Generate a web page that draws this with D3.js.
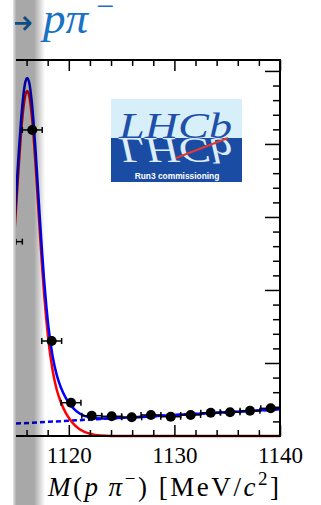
<!DOCTYPE html>
<html>
<head>
<meta charset="utf-8">
<script src="https://cdn.jsdelivr.net/npm/d3@7"></script>
<style>
  html, body { margin: 0; padding: 0; background: #fff; }
  svg { display: block; font-family: "Liberation Serif", "Times New Roman", serif; }
</style>
</head>
<body>
<svg id="chart" width="321" height="505"></svg>
<script>
// histogram bins
const binMass = [1114.66, 1116.54, 1118.38, 1120.21, 1122.17, 1124.06, 1125.96, 1127.78, 1129.65, 1131.54, 1133.44, 1135.27, 1137.16, 1139.12];
const binCounts = [2662, 4192, 1301, 456, 278, 270, 256, 288, 264, 288, 319, 325, 347, 379];
const countErr = [52, 65, 36, 21, 17, 16, 16, 17, 16, 17, 18, 18, 19, 19];
const binHalfWidth = 0.94;

// fit curves, sampled off the plot
const fitMass = [1114.86, 1115.06, 1115.26, 1115.46, 1115.66, 1115.86, 1116.06, 1116.26, 1116.46, 1116.66, 1116.86, 1117.06, 1117.26, 1117.46, 1117.66, 1117.86, 1118.06, 1118.46, 1118.86, 1119.26, 1119.66, 1120.06, 1120.56, 1121.06, 1122.06, 1123.06, 1125.06, 1130, 1135, 1140];
const signalCurve = [2788, 3251, 3705, 4116, 4442, 4655, 4726, 4655, 4442, 4116, 3705, 3251, 2788, 2349, 1949, 1607, 1319, 903, 633, 458, 331, 236, 148, 88, 27, 7, 0, 0, 0, 0];
const totalCurve = [2957, 3421, 3877, 4290, 4617, 4832, 4904, 4835, 4623, 4299, 3890, 3437, 2976, 2538, 2140, 1799, 1513, 1100, 833, 661, 537, 446, 361, 305, 252, 240, 249, 287, 326, 365];
const bgMass = [1115, 1140];
const bgCurve = [170, 365];

// ticks
const xMajor = [1120, 1130, 1140];
const xMinor = [1116, 1118, 1122, 1124, 1126, 1128, 1132, 1134, 1136, 1138];
const yMajor = [1000, 2000, 3000, 4000, 5000];
const yMinor = d3.range(200, 5150, 200).filter(v => v % 1000 !== 0);

const svg = d3.select('#chart');

const x = d3.scaleLinear().domain([1115, 1140]).range([16, 280]);
const y = d3.scaleLinear().domain([0, 5150]).range([436, 60]);

const defs = svg.append('defs');
defs.append('clipPath').attr('id', 'plotClip')
  .append('rect').attr('x', 16).attr('y', 60).attr('width', 264).attr('height', 378);
defs.append('clipPath').attr('id', 'leftClip')
  .append('rect').attr('x', 15).attr('y', 0).attr('width', 306).attr('height', 505);

// gray band on the left
const grad = defs.append('linearGradient').attr('id', 'band')
  .attr('gradientUnits', 'userSpaceOnUse')
  .attr('x1', 13).attr('x2', 45).attr('y1', 0).attr('y2', 0);
[[0, 0.1], [0.1, 0.34], [0.66, 0.34], [1, 0]].forEach(s => {
  grad.append('stop').attr('offset', s[0]).attr('stop-color', '#000').attr('stop-opacity', s[1]);
});

// title
const title = svg.append('g').attr('clip-path', 'url(#leftClip)').attr('fill', '#1873c4');
title.append('text').attr('x', 33).attr('y', 34).attr('text-anchor', 'end')
  .attr('font-family', '"DejaVu Sans", sans-serif')
  .attr('font-size', 34).text('\u2192');
title.append('text').attr('x', 43).attr('y', 33).attr('font-size', 45)
  .attr('font-style', 'italic').text('p\u03c0');
title.append('text').attr('x', 96).attr('y', 17).attr('font-size', 32).text('\u2212');

// LHCb logo
const logo = svg.append('g');
defs.append('clipPath').attr('id', 'logoClip')
  .append('rect').attr('x', 111).attr('y', 99).attr('width', 131).attr('height', 83);
logo.append('rect').attr('x', 111).attr('y', 99).attr('width', 131).attr('height', 39).attr('fill', '#d6eff9');
logo.append('rect').attr('x', 111).attr('y', 138).attr('width', 131).attr('height', 44).attr('fill', '#1b4ca3');
const lg = logo.append('g').attr('clip-path', 'url(#logoClip)');
lg.append('text').attr('x', 119).attr('y', 137.5).attr('font-size', 35).attr('font-style', 'italic')
  .attr('textLength', 113).attr('lengthAdjust', 'spacingAndGlyphs')
  .attr('fill', '#1f4fa8').text('LHCb');
lg.append('text').attr('x', 119).attr('y', 137.5).attr('font-size', 35).attr('font-style', 'italic')
  .attr('textLength', 113).attr('lengthAdjust', 'spacingAndGlyphs')
  .attr('transform', 'translate(0,275) scale(1,-1)')
  .attr('fill', '#dcedf8').text('LHCb');
lg.append('line').attr('x1', 176).attr('y1', 158).attr('x2', 228).attr('y2', 138)
  .attr('stroke', '#e23a2e').attr('stroke-width', 2);
logo.append('text').attr('x', 177).attr('y', 179).attr('text-anchor', 'middle')
  .attr('font-family', '"Liberation Sans", Arial, sans-serif').attr('font-weight', 'bold')
  .attr('font-size', 8.4).attr('fill', '#fff').text('Run3 commissioning');

// curves
const plot = svg.append('g').attr('clip-path', 'url(#plotClip)');
const line = d3.line().x(d => x(d[0])).y(d => y(d[1])).curve(d3.curveMonotoneX);

plot.append('path')
  .datum(d3.zip(bgMass, bgCurve))
  .attr('d', line).attr('fill', 'none')
  .attr('stroke', '#0000ff').attr('stroke-width', 2.5).attr('stroke-dasharray', '5,3');

plot.append('path')
  .datum(d3.zip(fitMass, signalCurve))
  .attr('d', line).attr('fill', 'none')
  .attr('stroke', '#ff0000').attr('stroke-width', 2.5);

plot.append('path')
  .datum(d3.zip(fitMass, totalCurve))
  .attr('d', line).attr('fill', 'none')
  .attr('stroke', '#0000ff').attr('stroke-width', 2.5);

// data points with error bars
const pts = binMass.map((m, i) => ({ m, c: binCounts[i], e: countErr[i] }));
const eb = plot.append('g').attr('stroke', '#000').attr('stroke-width', 1.5);
pts.forEach(p => {
  const x0 = x(Math.max(p.m - binHalfWidth, 1115));
  const x1 = x(p.m + binHalfWidth);
  const yc = y(p.c);
  eb.append('line').attr('x1', x0).attr('x2', x1).attr('y1', yc).attr('y2', yc);
  eb.append('line').attr('x1', x0).attr('x2', x0).attr('y1', yc - 3).attr('y2', yc + 3);
  eb.append('line').attr('x1', x1).attr('x2', x1).attr('y1', yc - 3).attr('y2', yc + 3);
  eb.append('line').attr('x1', x(p.m)).attr('x2', x(p.m)).attr('y1', y(p.c - p.e)).attr('y2', y(p.c + p.e));
});
plot.selectAll('.pt')
  .data(pts.filter(p => p.m >= 1115))
  .enter().append('circle')
  .attr('class', 'pt')
  .attr('cx', d => x(d.m))
  .attr('cy', d => y(d.c))
  .attr('r', 5)
  .attr('fill', '#000');

// axes
const axes = svg.append('g');
axes.append('g').attr('transform', 'translate(0,436)')
  .call(d3.axisBottom(x).tickValues(xMajor).tickSize(-11).tickPadding(11).tickFormat(d3.format('d')));
axes.append('g').attr('transform', 'translate(0,436)')
  .call(d3.axisBottom(x).tickValues(xMinor).tickSize(-6).tickFormat(''));
axes.append('g').attr('transform', 'translate(0,60)')
  .call(d3.axisTop(x).tickValues(xMajor).tickSize(-11).tickFormat(''));
axes.append('g').attr('transform', 'translate(0,60)')
  .call(d3.axisTop(x).tickValues(xMinor).tickSize(-6).tickFormat(''));
axes.append('g').attr('transform', 'translate(280,0)')
  .call(d3.axisRight(y).tickValues(yMajor).tickSize(-15).tickFormat(''));
axes.append('g').attr('transform', 'translate(280,0)')
  .call(d3.axisRight(y).tickValues(yMinor).tickSize(-7).tickFormat(''));

axes.selectAll('.domain').remove();
axes.selectAll('.tick line').attr('stroke', '#000').attr('stroke-width', 1.5);
axes.selectAll('.tick text')
  .attr('font-family', '"Liberation Serif", "Times New Roman", serif')
  .attr('font-size', 23).attr('fill', '#000');

// frame
axes.append('path')
  .attr('d', `M${x(1115)},${y(5150)}H${x(1140)}V${y(0)}H${x(1115)}`)
  .attr('fill', 'none').attr('stroke', '#000').attr('stroke-width', 2);

// x axis title
const xt = svg.append('text').attr('x', 279).attr('y', 496).attr('text-anchor', 'end')
  .attr('font-size', 27).attr('textLength', 231).attr('lengthAdjust', 'spacing');
xt.append('tspan').attr('font-style', 'italic').text('M');
xt.append('tspan').text('(');
xt.append('tspan').attr('font-style', 'italic').text('p\u2009\u03c0');
xt.append('tspan').attr('dy', -11).attr('font-size', 19).text('\u2212');
xt.append('tspan').attr('dy', 11).text(') [MeV/');
xt.append('tspan').attr('font-style', 'italic').text('c');
xt.append('tspan').attr('dy', -11).attr('font-size', 19).text('2');
xt.append('tspan').attr('dy', 11).text(']');

// gray band overlay
svg.append('rect').attr('x', 13).attr('y', 0).attr('width', 32).attr('height', 505)
  .attr('fill', 'url(#band)');
</script>
</body>
</html>
